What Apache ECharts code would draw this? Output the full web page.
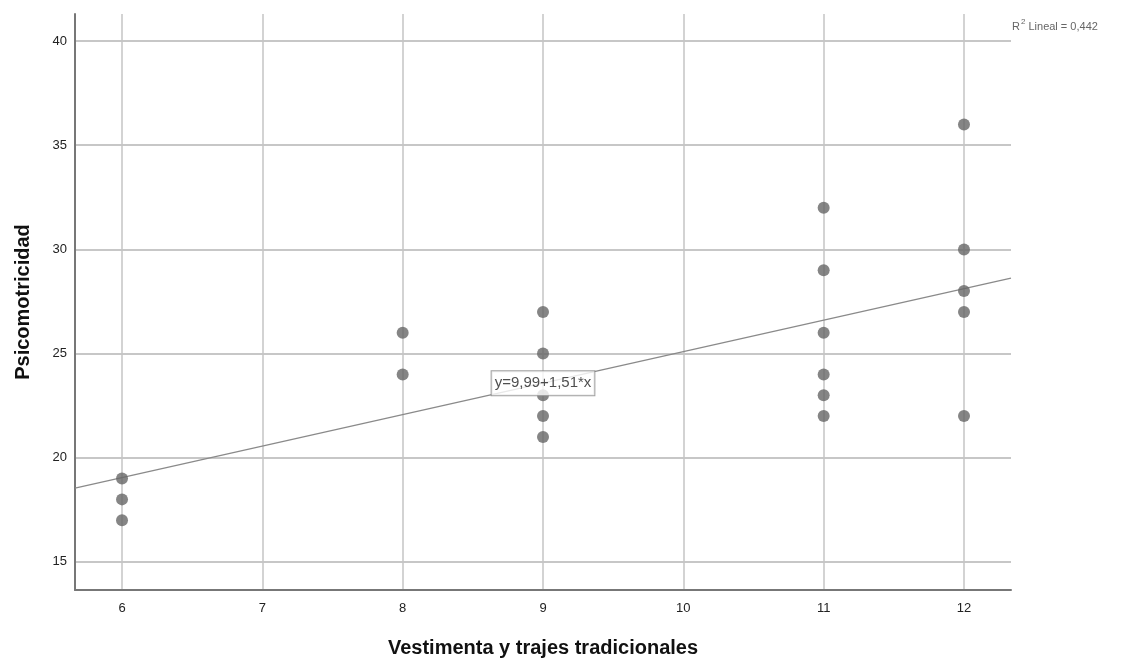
<!DOCTYPE html>
<html>
<head>
<meta charset="utf-8">
<script src="https://cdn.jsdelivr.net/npm/echarts@6/dist/echarts.min.js"></script>
<style>html,body{margin:0;padding:0;background:#fff}#c{width:1131px;height:662px}</style>
</head>
<body>
<div id="c"></div>
<script>
const xTicks = [6, 7, 8, 9, 10, 11, 12];
const yTicks = [15, 20, 25, 30, 35, 40];
const xValues = [6, 6, 6, 8, 8, 9, 9, 9, 9, 9, 11, 11, 11, 11, 11, 11, 12, 12, 12, 12, 12];
const yValues = [19, 18, 17, 26, 24, 27, 25, 23, 22, 21, 32, 29, 26, 24, 23, 22, 36, 30, 28, 27, 22];
const intercept = 9.99;
const slope = 1.51;
const xMin = 5.665, xMax = 12.335;
const yMin = 13.65, yMax = 41.3;

const points = xValues.map((x, i) => [x, yValues[i]]);
const fitLine = [[xMin, intercept + slope * xMin], [xMax, intercept + slope * xMax]];
const labelX = 9;

const chart = echarts.init(document.getElementById('c'));
const font = '"Liberation Sans", Arial, sans-serif';
chart.setOption({
  animation: false,
  backgroundColor: '#fff',
  grid: { left: 75, right: 120, top: 14, bottom: 72, outerBoundsMode: 'none', containLabel: false },
  xAxis: {
    type: 'value', min: xMin, max: xMax,
    name: 'Vestimenta y trajes tradicionales', nameLocation: 'middle', nameGap: 48,
    nameTextStyle: { fontFamily: font, fontSize: 20, fontWeight: 'bold', color: '#111' },
    axisLine: { show: true, onZero: false, lineStyle: { color: '#777', width: 2 } },
    axisTick: { show: false, customValues: xTicks },
    axisLabel: { customValues: xTicks, fontFamily: font, fontSize: 13, color: '#222', margin: 12 },
    splitLine: { show: true, lineStyle: { color: '#c4c4c4', width: 1.5 } }
  },
  yAxis: {
    type: 'value', min: yMin, max: yMax,
    name: 'Psicomotricidad', nameLocation: 'middle', nameGap: 42,
    nameTextStyle: { fontFamily: font, fontSize: 20, fontWeight: 'bold', color: '#111' },
    axisLine: { show: true, onZero: false, lineStyle: { color: '#777', width: 2 } },
    axisTick: { show: false, customValues: yTicks },
    axisLabel: { customValues: yTicks, fontFamily: font, fontSize: 13, color: '#222', margin: 8 },
    splitLine: { show: true, lineStyle: { color: '#b4b4b4', width: 1.5 } }
  },
  series: [
    {
      type: 'line', data: fitLine, symbol: 'none', silent: true, z: 3,
      lineStyle: { color: '#8a8a8a', width: 1.3 }
    },
    {
      type: 'scatter', data: points, symbol: 'circle', symbolSize: 12, z: 4,
      itemStyle: { color: '#666666' }
    },
    {
      type: 'scatter', data: [[labelX, intercept + slope * labelX]], symbolSize: 0, z: 10,
      label: {
        show: true, position: 'inside', formatter: 'y=9,99+1,51*x',
        fontFamily: font, fontSize: 15, color: '#222',
        backgroundColor: '#fff', borderColor: '#888', borderWidth: 1,
        padding: [5, 3, 4, 3]
      }
    }
  ],
  graphic: [{
    type: 'text', left: 1012, top: 18,
    style: {
      text: '{s|R}{t|2}{r| Lineal = 0,442}',
      rich: {
        s: { fontFamily: font, fontSize: 11, fill: '#666', verticalAlign: 'bottom' },
        r: { fontFamily: font, fontSize: 11, fill: '#666', verticalAlign: 'bottom' },
        t: { fontFamily: font, fontSize: 8, fill: '#666', verticalAlign: 'top', padding: [0, 0, 6, 1] }
      }
    }
  }]
});
</script>
</body>
</html>
